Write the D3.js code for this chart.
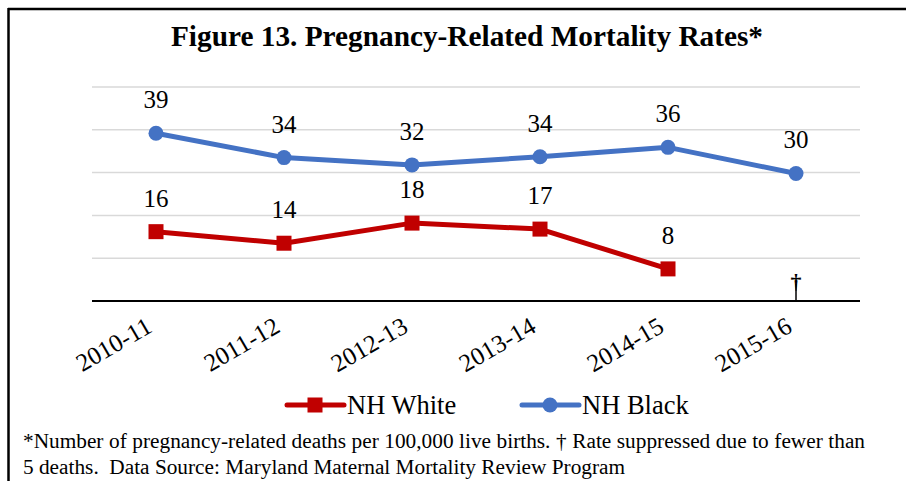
<!DOCTYPE html>
<html><head><meta charset="utf-8">
<script src="https://cdn.jsdelivr.net/npm/d3@7"></script>
<style>
html,body{margin:0;padding:0;background:#fff;}
svg{display:block;}
</style></head>
<body><svg id="c" width="906" height="481"></svg>
<script>
const categories = ["2010-11","2011-12","2012-13","2013-14","2014-15","2015-16"];
const whiteValues = [16.2, 13.5, 18.2, 16.8, 7.5, null];
const blackValues = [39.2, 33.5, 31.8, 33.7, 35.9, 29.8];
const yTicks = [0, 10, 20, 30, 40, 50];
const seriesNames = ["NH White", "NH Black"];
const seriesColors = ["#C00000", "#4472C4"];
const suppressedSymbol = "†";
const titleText = "Figure 13. Pregnancy-Related Mortality Rates*";
const footLines = [
  "*Number of pregnancy-related deaths per 100,000 live births. \u2020 Rate suppressed due to fewer than",
  "5 deaths.\u00a0 Data Source: Maryland Maternal Mortality Review Program"
];

const FF = "Liberation Serif";
const svg = d3.select("#c").attr("font-family", FF);
const x = d3.scalePoint().domain(categories).range([92, 860]).padding(0.5);
const y = d3.scaleLinear().domain([0, 50]).range([301, 87]);

// frame
svg.append("line").attr("x1",8).attr("x2",906).attr("y1",9).attr("y2",9).attr("stroke","#000").attr("stroke-width",2.5);
svg.append("line").attr("x1",8.5).attr("x2",8.5).attr("y1",8).attr("y2",481).attr("stroke","#000").attr("stroke-width",2.5);

// title
svg.append("text").attr("font-family",FF).attr("x",467).attr("y",46).attr("text-anchor","middle")
  .attr("font-size",29.3).attr("font-weight","bold").text(titleText);

// gridlines
svg.append("g").selectAll("line").data(yTicks.filter(d=>d>0)).join("line")
  .attr("x1",92).attr("x2",860).attr("y1",d=>y(d)).attr("y2",d=>y(d))
  .attr("stroke","#d9d9d9").attr("stroke-width",1.5);

// x axis
const xAxis = svg.append("g").attr("transform",`translate(0,${y(0)})`)
  .call(d3.axisBottom(x).tickSize(0).tickSizeOuter(0));
xAxis.attr("font-family",FF);
xAxis.select(".domain").attr("stroke","#000").attr("stroke-width",2).attr("d","M92,0H860");
xAxis.selectAll(".tick text")
  .attr("font-family",FF)
  .attr("font-size",25).attr("fill","#000")
  .attr("text-anchor","end").attr("dy",null).attr("y",null)
  .attr("transform","translate(-3,30) rotate(-30)");

const seriesData = [whiteValues, blackValues];
const line = d3.line().defined(d=>d.v!=null).x(d=>x(d.c)).y(d=>y(d.v));

seriesData.forEach((vals,i)=>{
  const pts = categories.map((c,j)=>({c, v: vals[j]}));
  svg.append("path").datum(pts).attr("d",line).attr("fill","none")
    .attr("stroke",seriesColors[i]).attr("stroke-width",5).attr("stroke-linejoin","round");
  const valid = pts.filter(d=>d.v!=null);
  if(i===0){
    svg.append("g").selectAll("rect").data(valid).join("rect")
      .attr("x",d=>x(d.c)-7.5).attr("y",d=>y(d.v)-7.5).attr("width",15).attr("height",15)
      .attr("fill",seriesColors[i]);
  } else {
    svg.append("g").selectAll("circle").data(valid).join("circle")
      .attr("cx",d=>x(d.c)).attr("cy",d=>y(d.v)).attr("r",7.5).attr("fill",seriesColors[i]);
  }
  svg.append("g").selectAll("text").data(valid).join("text")
    .attr("font-family",FF)
    .attr("x",d=>x(d.c)).attr("y",d=>y(d.v)-25).attr("text-anchor","middle")
    .attr("font-size",25).text(d=>Math.round(d.v));
  pts.filter(d=>d.v==null).forEach(d=>{
    svg.append("line").attr("x1",x(d.c)).attr("x2",x(d.c)).attr("y1",284).attr("y2",y(0))
      .attr("stroke","#000").attr("stroke-width",1.5);
    svg.append("text").attr("font-family",FF).attr("x",x(d.c)).attr("y",289).attr("text-anchor","middle")
      .attr("font-size",22).attr("font-weight","bold").text(suppressedSymbol);
  });
});

// legend
const legendItems = [
  {name: seriesNames[0], color: seriesColors[0], x0: 287, shape: "square"},
  {name: seriesNames[1], color: seriesColors[1], x0: 522, shape: "circle"}
];
const ly = 405;
legendItems.forEach(it=>{
  const g = svg.append("g");
  g.append("line").attr("x1",it.x0).attr("x2",it.x0+57).attr("y1",ly).attr("y2",ly)
    .attr("stroke",it.color).attr("stroke-width",5).attr("stroke-linecap","round");
  if(it.shape==="square") g.append("rect").attr("x",it.x0+28-7.5).attr("y",ly-7.5).attr("width",15).attr("height",15).attr("fill",it.color);
  else g.append("circle").attr("cx",it.x0+28).attr("cy",ly).attr("r",7.5).attr("fill",it.color);
  g.append("text").attr("font-family",FF).attr("x",it.x0+60).attr("y",ly+9).attr("font-size",26.5).text(it.name);
});

// footnote
const f1 = svg.append("text").attr("font-family",FF).attr("x",23).attr("y",448).attr("font-size",21.3).text(footLines[0]);
const nat = f1.node().getComputedTextLength();
const spaces = (footLines[0].match(/ /g)||[]).length;
f1.attr("word-spacing", (842 - nat)/spaces);
svg.append("text").attr("font-family",FF).attr("x",23).attr("y",474).attr("font-size",21.3).attr("xml:space","preserve").text(footLines[1]);
</script>
</body></html>
